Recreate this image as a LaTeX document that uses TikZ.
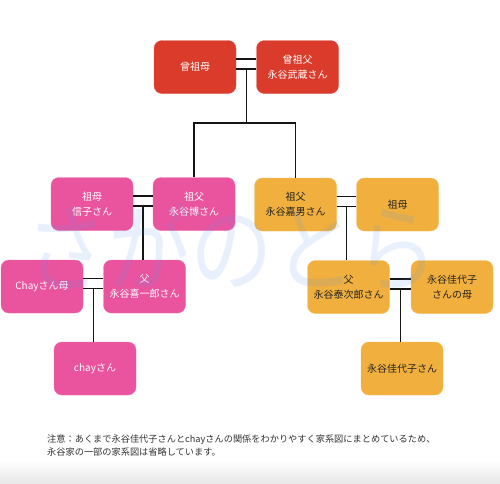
\documentclass[tikz,border=0pt]{standalone}
\usepackage{fontspec}
\setmainfont{Noto Sans CJK JP}
\usetikzlibrary{calc}
\definecolor{cred}{RGB}{218,59,43}
\definecolor{cpink}{RGB}{234,83,157}
\definecolor{corange}{RGB}{241,176,62}
\definecolor{cdark}{RGB}{34,34,34}
\definecolor{cnote}{RGB}{51,51,51}
\definecolor{wmblue}{RGB}{80,145,250}
\definecolor{cline}{RGB}{20,20,20}
\definecolor{cgray}{RGB}{232,232,232}
\begin{document}
\begin{tikzpicture}[x=1pt,y=-1pt,
  box/.style={rounded corners=8pt, minimum width=82pt, minimum height=53pt,
    inner sep=2pt, align=center, font=\fontsize{10}{15}\selectfont},
  redbox/.style={box, fill=cred, draw=cred!85!white, text=white},
  pinkbox/.style={box, fill=cpink, draw=cpink!85!white, text=white},
  orbox/.style={box, fill=corange, draw=corange!85!white, text=cdark},
  link/.style={line width=1.5pt, draw=cline}]
\useasboundingbox (0,0) rectangle (500,483);
\fill[white] (0,0) rectangle (500,483);
\shade[top color=white, bottom color=cgray] (0,460) rectangle (500,483);

% nodes
\node[redbox] (ggm) at (195,67) {曾祖母};
\node[redbox] (ggf) at (297.5,67) {曾祖父\\永谷武蔵さん};
\node[pinkbox] (gmL) at (92,204) {祖母\\信子さん};
\node[pinkbox] (gfL) at (194,204) {祖父\\永谷博さん};
\node[orbox] (gfR) at (295.5,204.5) {祖父\\永谷嘉男さん};
\node[orbox] (gmR) at (397.5,204.5) {祖母};
\node[pinkbox] (chm) at (42,286.5) {Chayさん母};
\node[pinkbox] (fL) at (144.5,286.5) {父\\永谷喜一郎さん};
\node[orbox] (fR) at (348.5,287) {父\\永谷泰次郎さん};
\node[orbox] (km) at (452,287) {永谷佳代子\\さんの母};
\node[pinkbox] (chay) at (95,368.5) {chayさん};
\node[orbox] (kayo) at (402,368.5) {永谷佳代子さん};

% marriage lines
\foreach \a/\b/\n in {ggm/ggf/m1, gmL/gfL/m2, gfR/gmR/m3, chm/fL/m4, fR/km/m5}{
  \draw[link] ([yshift=8pt]\a.east) -- ([yshift=8pt]\b.west);
  \draw[link] ([yshift=-2pt]\a.east) -- ([yshift=-2pt]\b.west);
  \coordinate (\n) at ($([yshift=-2pt]\a.east)!0.5!([yshift=-2pt]\b.west)$);
}

% descent lines
\coordinate (j1) at ($(m1)+(0,54)$);
\draw[link] (m1) -- (j1);
\draw[link] (gfL.north) |- (j1) -| (gfR.north);
\draw[link] (m2) -- (m2 |- fL.north);
\draw[link] (m3) -- (m3 |- fR.north);
\draw[link] (m4) -- (m4 |- chay.north);
\draw[link] (m5) -- (m5 |- kayo.north);

% note
\node[anchor=north west, inner sep=0pt, align=left, text=cnote,
  font=\fontsize{9.2}{12.7}\selectfont] (note) at (47,435)
  {注意：あくまで永谷佳代子さんとchayさんの関係をわかりやすく家系図にまとめているため、\\
   永谷家の一部の家系図は省略しています。};

% watermark
\node[text=wmblue, text opacity=0.13, inner sep=0pt, xscale=0.86,
  font=\fontsize{96}{96}\selectfont] (wm) at (232,247) {さがのとら};
\end{tikzpicture}
\end{document}
